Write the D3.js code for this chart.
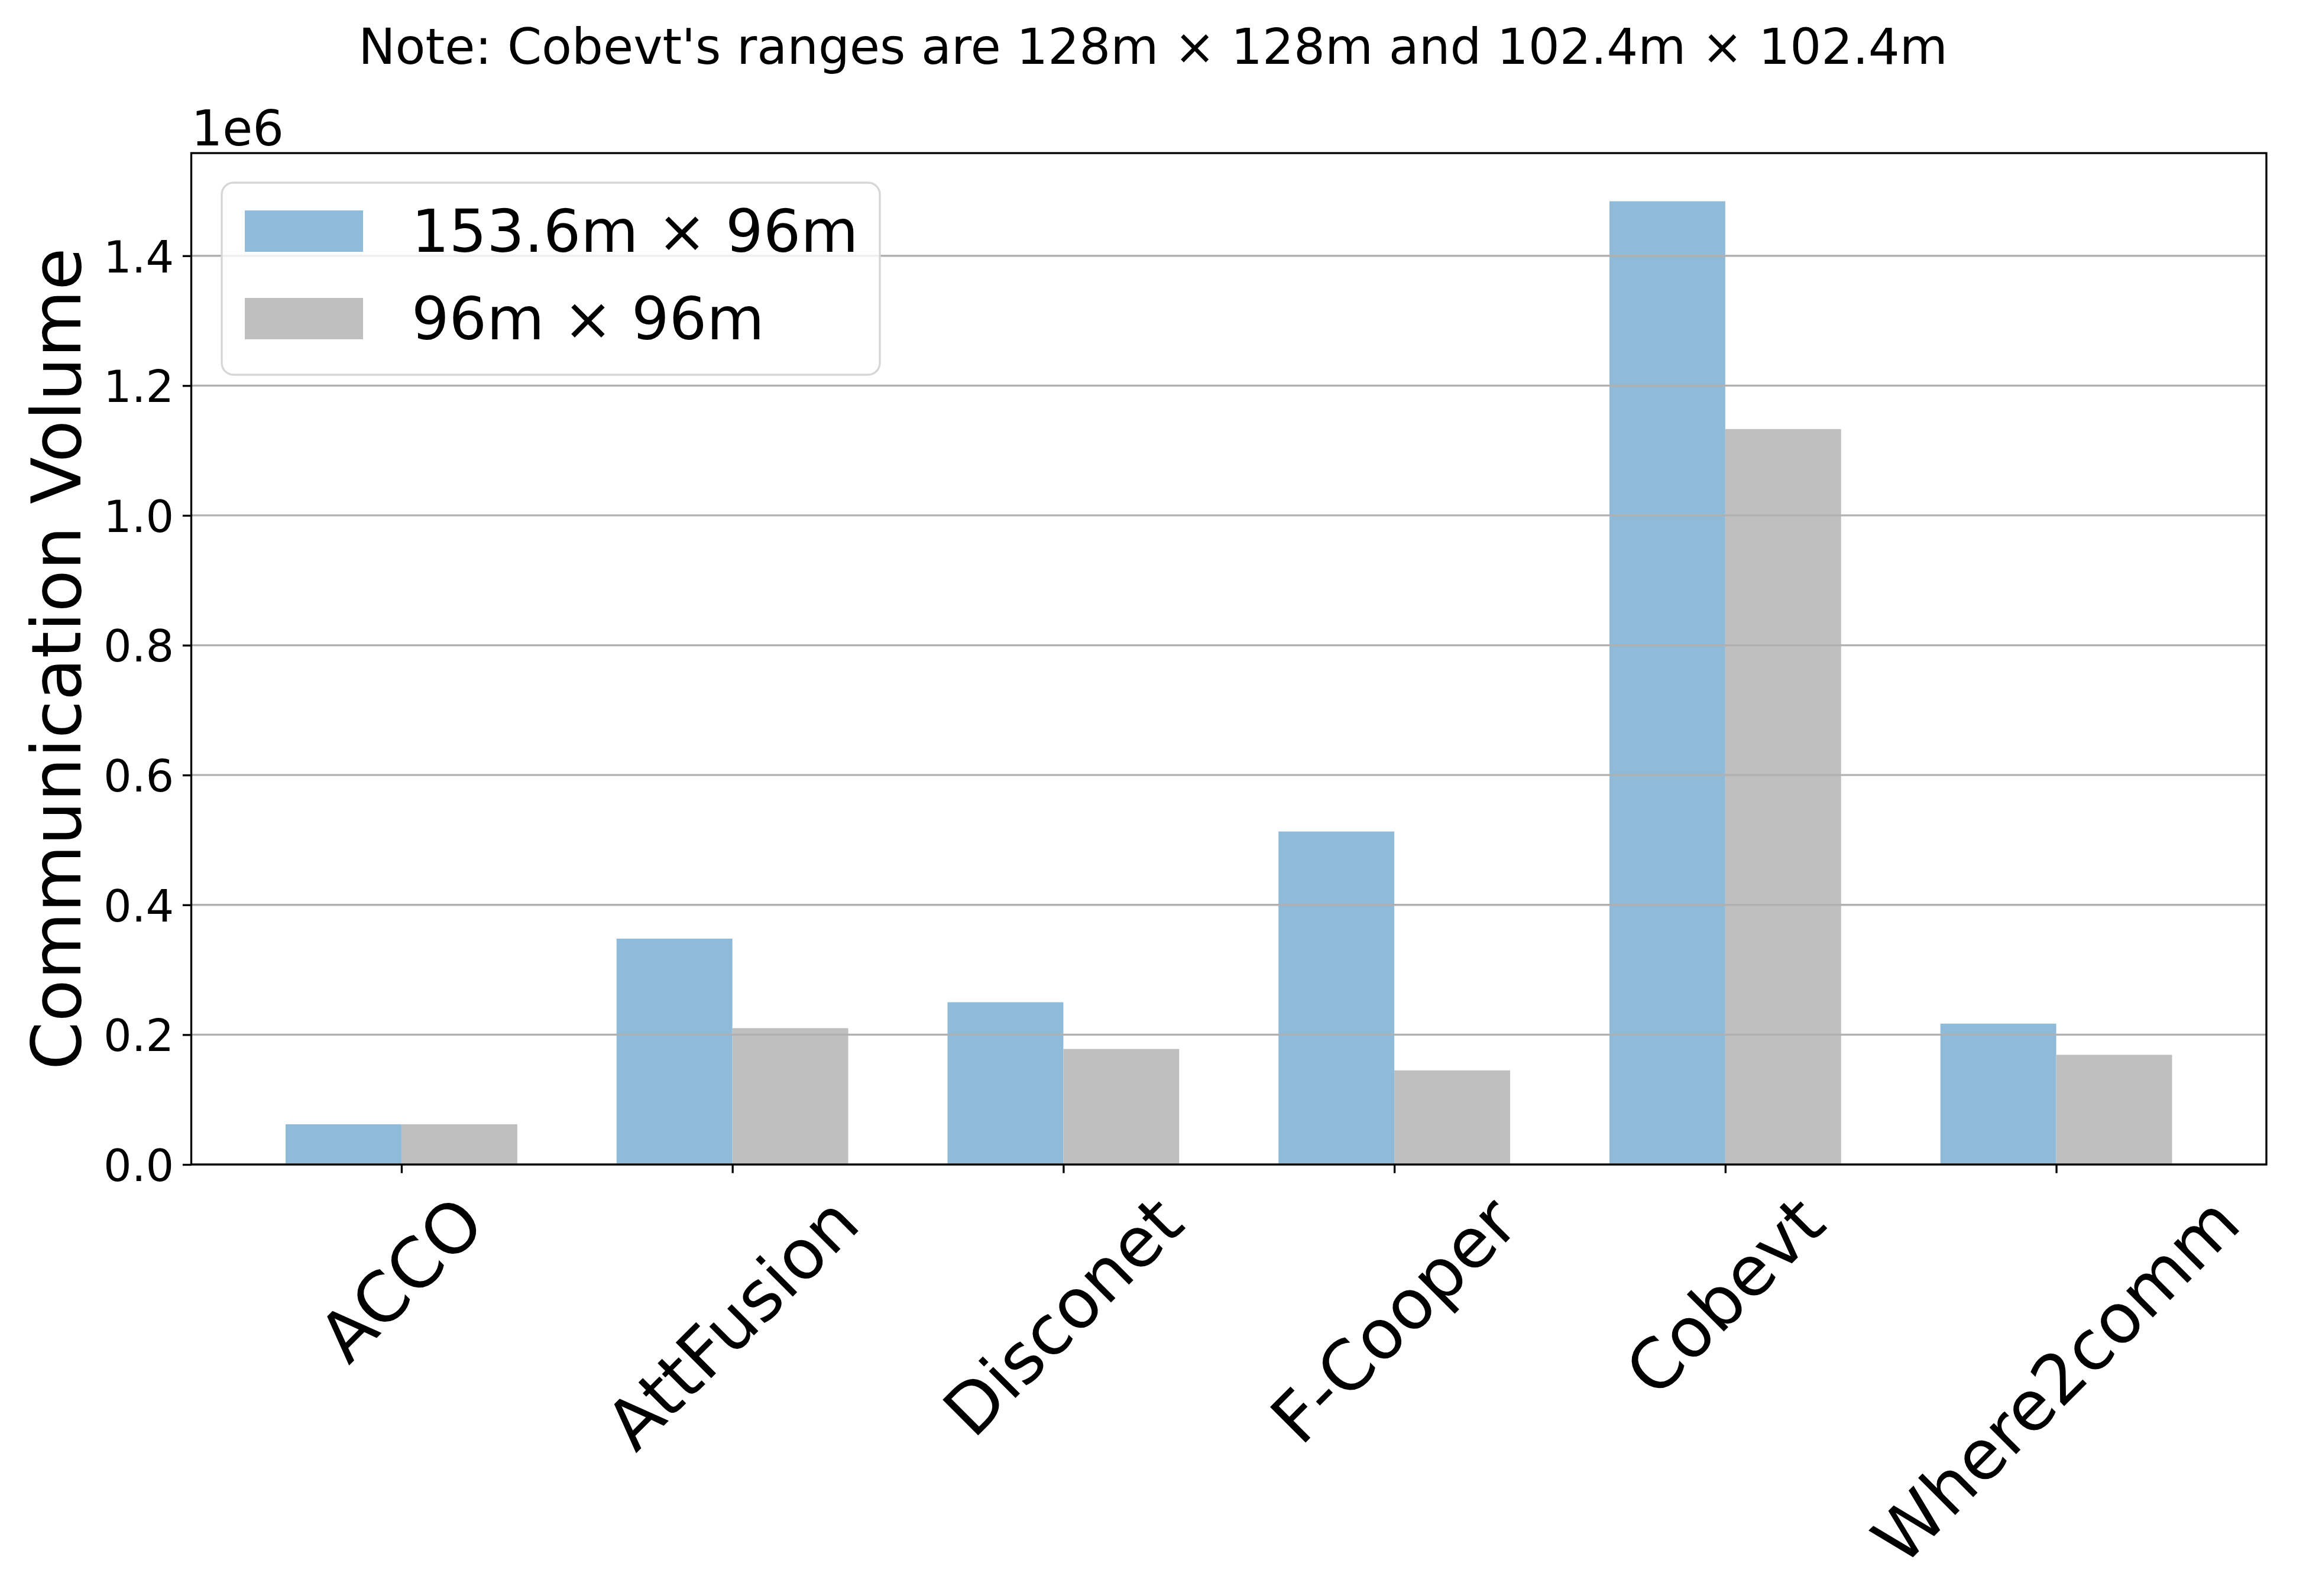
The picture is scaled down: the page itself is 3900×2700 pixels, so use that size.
<!DOCTYPE html>
<html>
<head>
<meta charset="utf-8">
<script src="https://cdn.jsdelivr.net/npm/d3@7"></script>
<style>
  html, body { margin: 0; padding: 0; background: #ffffff; }
  svg { display: block; font-family: "DejaVu Sans", sans-serif; }
</style>
</head>
<body>
<svg id="chart" width="3900" height="2700"></svg>
<script>
// ---- data ----
const categories = ["ACCO", "AttFusion", "Disconet", "F-Cooper", "Cobevt", "Where2comm"];
const seriesNames = ["153.6m × 96m", "96m × 96m"];
const values153 = [0.062e6, 0.348e6, 0.250e6, 0.513e6, 1.484e6, 0.217e6];
const values96  = [0.062e6, 0.210e6, 0.178e6, 0.145e6, 1.133e6, 0.169e6];
const yTicks = [0, 0.2e6, 0.4e6, 0.6e6, 0.8e6, 1.0e6, 1.2e6, 1.4e6];
const yTickLabels = ["0.0", "0.2", "0.4", "0.6", "0.8", "1.0", "1.2", "1.4"];
const titleText = "Note: Cobevt's ranges are 128m × 128m and 102.4m × 102.4m";
const yLabelText = "Communication Volume";
const offsetText = "1e6";
const colors = ["#8fbbd9", "#bfbfbf"];

(function () {
// ---- layout ----
const W = 3900, H = 2700;
const pL = 323.5, pR = 3833, pT = 259, pB = 1970;
const barW = 0.35;
const lw = 3.33, tickLen = 14.6, pad = 14.6;

const svg = d3.select("#chart");
svg.append("rect").attr("width", W).attr("height", H).attr("fill", "#ffffff");

const yMax = d3.max(values153.concat(values96)) * 1.05;
const span = 5 + 2 * barW;
const x = d3.scaleLinear().domain([-barW - 0.05 * span, 5 + barW + 0.05 * span]).range([pL, pR]);
const y = d3.scaleLinear().domain([0, yMax]).range([pB, pT]);

// bars
const series = [values153, values96];
series.forEach((vals, si) => {
  svg.append("g").selectAll("rect").data(vals).join("rect")
    .attr("x", (d, i) => x(i + (si === 0 ? -barW : 0)))
    .attr("width", (d, i) => x(i + barW) - x(i))
    .attr("y", d => y(d))
    .attr("height", d => y(0) - y(d))
    .attr("fill", colors[si]);
});

// grid (above bars, as in matplotlib default)
svg.append("g").selectAll("line").data(yTicks).join("line")
  .attr("x1", pL).attr("x2", pR)
  .attr("y1", d => y(d)).attr("y2", d => y(d))
  .attr("stroke", "#b0b0b0").attr("stroke-width", lw);

// y axis ticks & labels
const yAxis = d3.axisLeft(y).tickValues(yTicks).tickFormat((d, i) => yTickLabels[i])
  .tickSize(tickLen).tickPadding(pad);
const gy = svg.append("g").attr("transform", `translate(${pL},0)`).call(yAxis);
gy.select(".domain").remove();
gy.selectAll(".tick line").attr("stroke", "#000").attr("stroke-width", lw);
gy.selectAll(".tick text").attr("font-size", 75).attr("fill", "#000")
  .attr("font-family", "DejaVu Sans").attr("dy", "0.365em");

// x axis ticks
const xAxis = d3.axisBottom(x).tickValues(d3.range(categories.length)).tickFormat(() => "")
  .tickSize(tickLen);
const gx = svg.append("g").attr("transform", `translate(0,${pB})`).call(xAxis);
gx.select(".domain").remove();
gx.selectAll(".tick line").attr("stroke", "#000").attr("stroke-width", lw);

// x tick labels rotated 45 deg, bbox centered at tick, top at pad below tick
const y0 = pB + tickLen + pad;
categories.forEach((c, i) => {
  const t = svg.append("text").text(c)
    .attr("font-size", 116.7).attr("font-family", "DejaVu Sans")
    .attr("text-anchor", "middle").attr("fill", "#000");
  const bb = t.node().getBBox();
  const cx = bb.x + bb.width / 2, cy = bb.y + bb.height / 2;
  const half = (bb.width + bb.height) / (2 * Math.SQRT2);
  t.attr("transform", `translate(${x(i)},${y0 + half}) rotate(-45) translate(${-cx},${-cy})`);
});

// spines
svg.append("rect").attr("x", pL).attr("y", pT)
  .attr("width", pR - pL).attr("height", pB - pT)
  .attr("fill", "none").attr("stroke", "#000").attr("stroke-width", lw);

// y label
svg.append("text").text(yLabelText)
  .attr("font-size", 116.7).attr("font-family", "DejaVu Sans").attr("fill", "#000")
  .attr("text-anchor", "middle")
  .attr("transform", `translate(136,${(pT + pB) / 2}) rotate(-90)`);

// offset text
svg.append("text").text(offsetText)
  .attr("x", pL).attr("y", 246)
  .attr("font-size", 83).attr("font-family", "DejaVu Sans").attr("fill", "#000");

// title
svg.append("text").text(titleText)
  .attr("x", W / 2).attr("y", 108).attr("text-anchor", "middle")
  .attr("font-size", 83.3).attr("font-family", "DejaVu Sans").attr("fill", "#000");

// legend
const lg = svg.append("g");
lg.append("rect").attr("x", 375).attr("y", 309).attr("width", 1488 - 375).attr("height", 634 - 309)
  .attr("rx", 20).attr("ry", 20)
  .attr("fill", "#ffffff").attr("fill-opacity", 0.8)
  .attr("stroke", "#d6d6d6").attr("stroke-width", lw);
const legY = [356, 504];
seriesNames.forEach((n, i) => {
  lg.append("rect").attr("x", 414).attr("y", legY[i]).attr("width", 200).attr("height", 70)
    .attr("fill", colors[i]);
  lg.append("text").text(n).attr("x", 696).attr("y", legY[i] + 70)
    .attr("font-size", 100).attr("font-family", "DejaVu Sans").attr("fill", "#000");
});
})();
</script>
</body>
</html>
